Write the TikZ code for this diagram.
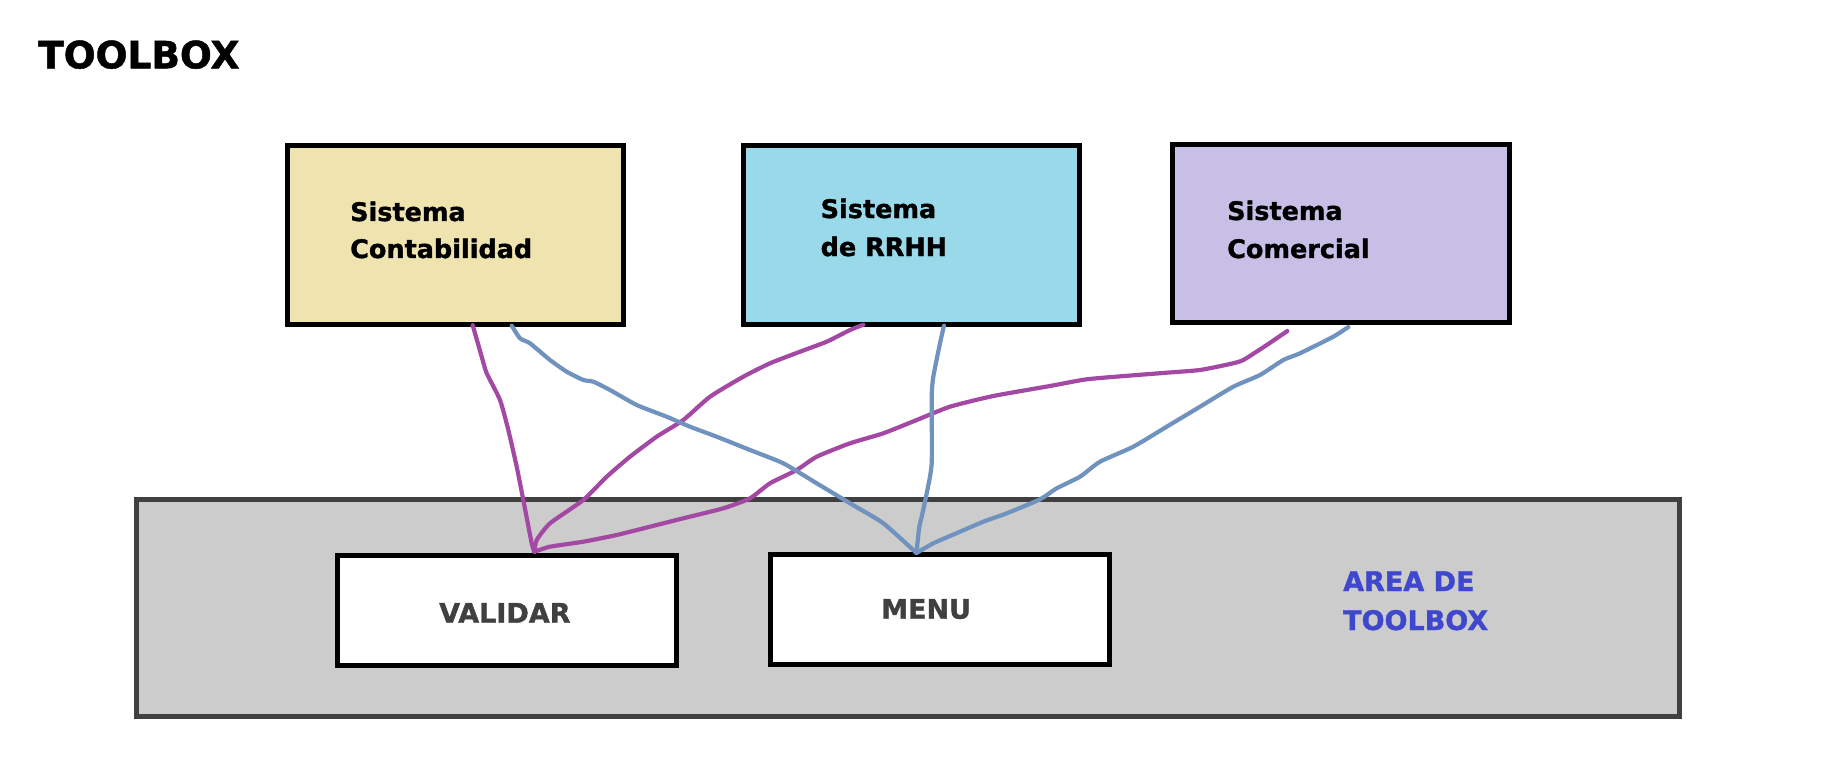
\documentclass[tikz,border=0pt]{standalone}
\usepackage{fontspec}
\setmainfont{DejaVu Sans}[BoldFeatures={FakeBold=1.3}]
\definecolor{ctanx}{HTML}{EFE4B0}
\definecolor{cturq}{HTML}{99D9EA}
\definecolor{clav}{HTML}{C8BFE7}
\definecolor{cgrayx}{HTML}{CCCCCC}
\definecolor{cedge}{HTML}{404040}
\definecolor{cpurp}{HTML}{A349A4}
\definecolor{cbluex}{HTML}{7092BE}
\definecolor{cindigo}{HTML}{3F48CC}
\definecolor{ctext}{HTML}{404040}
\tikzset{
  sysbox/.style={draw=black, line width=5pt, rectangle, inner sep=0pt, minimum width=336pt, minimum height=178.4pt},
  btnbox/.style={draw=black, fill=white, line width=5pt, rectangle, inner sep=0pt, minimum width=339.3pt, minimum height=110.5pt},
  syslbl/.style={inner sep=0pt, anchor=base west, align=left, font=\bfseries\fontsize{25.5}{37}\selectfont},
  btnlbl/.style={inner sep=0pt, anchor=base west, text=ctext, font=\bfseries\fontsize{27}{32}\selectfont},
  pline/.style={draw=cpurp, line width=4.2pt, line cap=round, line join=round},
  bline/.style={draw=cbluex, line width=4.2pt, line cap=round, line join=round},
}
\begin{document}
\begin{tikzpicture}[x=1pt,y=-1pt]
\useasboundingbox (0,0) rectangle (1823,770);
\fill[white] (0,0) rectangle (1823,770);

\node[inner sep=0pt, anchor=base west, font=\bfseries\fontsize{37.5}{40}\selectfont] (title) at (38,68.3) {TOOLBOX};

% system boxes
\node[sysbox, fill=ctanx] (cont) at (455.5,235) {};
\node[sysbox, fill=cturq, minimum width=335.7pt] (rrhh) at (911.35,235) {};
\node[sysbox, fill=clav, minimum width=336.7pt, minimum height=177.7pt] (com) at (1340.85,233.65) {};
\node[syslbl] (contlbl) at (350,258) {Sistema\\Contabilidad};
\node[syslbl, font=\bfseries\fontsize{25.5}{38}\selectfont] (rrhhlbl) at (820.5,256) {Sistema\\de RRHH};
\node[syslbl, font=\bfseries\fontsize{25.5}{38}\selectfont] (comlbl) at (1227,258) {Sistema\\Comercial};

% toolbox area
\node[draw=cedge, fill=cgrayx, line width=5pt, rectangle, inner sep=0pt, minimum width=1542.7pt, minimum height=216.4pt] (area) at (907.85,608) {};
\node[inner sep=0pt, anchor=base west, align=left, text=cindigo, font=\bfseries\fontsize{27}{39}\selectfont] (arealbl) at (1343,630) {AREA DE\\TOOLBOX};

% buttons
\node[btnbox] (valid) at (507.15,610.5) {};
\node[btnbox, minimum height=110.3pt] (menu) at (939.85,609.65) {};
\node[btnlbl] (validlbl) at (439,622.7) {VALIDAR};
\node[btnlbl] (menulbl) at (881,618.7) {MENU};

% connector end points
\coordinate (vtop) at ([xshift=27.2pt,yshift=1pt]valid.north);
\coordinate (mtop) at ([xshift=-23.4pt,yshift=-1pt]menu.north);
\coordinate (c1) at ([xshift=17.2pt,yshift=1.5pt]cont.south);
\coordinate (c2) at ([xshift=56.2pt,yshift=1pt]cont.south);
\coordinate (r1) at ([xshift=-48pt,yshift=2pt]rrhh.south);
\coordinate (r2) at ([xshift=32.6pt,yshift=1pt]rrhh.south);
\coordinate (k1) at ([xshift=-53.5pt,yshift=-6pt]com.south);
\coordinate (k2) at ([xshift=7.45pt,yshift=-2pt]com.south);

% purple connectors to VALIDAR
\draw[pline] plot[smooth, tension=0.35] coordinates {(c1) (481.7,356.7) (486.7,373.3) (500,400) (508.3,430) (516.7,466.7) (523.3,500) (531.7,543.3) (vtop)};
\draw[pline] plot[smooth, tension=0.35] coordinates {(r1) (850,330) (826.7,341.7) (800,351.7) (770,363.3) (743.3,376.7) (710,396.7) (683.3,420) (656.7,436.7) (630,456.7) (606.7,476.7) (583.3,500) (550,523.3) (536.7,540) (vtop)};
\draw[pline] plot[smooth, tension=0.35] coordinates {(k1) (1266.7,345) (1243.3,360) (1230,364) (1200,370) (1166.7,372.7) (1133.3,375.3) (1086.7,379.3) (1050,386) (993.3,396) (950,406.7) (916.7,420) (883.3,433.3) (850,443.3) (816.7,456.7) (796.7,470) (770,483.3) (750,498.3) (723.3,508.3) (683.3,518.3) (650,526.7) (616.7,535) (583.3,541.7) (550,546.7) (vtop)};

% blue connectors to MENU
\draw[bline] plot[smooth, tension=0.35] coordinates {(c2) (520,338.3) (530,343.3) (550,360) (566.7,371.7) (583.3,380) (593.3,381.7) (610,390) (636.7,405) (666.7,416.7) (690,426.7) (716.7,436.7) (750,450) (783.3,463.3) (816.7,483.3) (850,503.3) (883.3,523.3) (mtop)};
\draw[bline] plot[smooth, tension=0.35] coordinates {(r2) (940,343.3) (933.3,376.7) (931.7,396.7) (931.7,463.3) (926.7,493.3) (921.7,516.7) (919.3,526.7) (mtop)};
\draw[bline] plot[smooth, tension=0.35] coordinates {(k2) (1333.3,336.7) (1300,353.3) (1283.3,360) (1260,375) (1233.3,386.7) (1200,406.7) (1166.7,426.7) (1133.3,446.7) (1100,461.7) (1080,476.7) (1056.7,488.3) (1040,499.3) (1006.7,513.3) (983.3,521.7) (960,531.7) (933.3,543.3) (mtop)};
\end{tikzpicture}
\end{document}
